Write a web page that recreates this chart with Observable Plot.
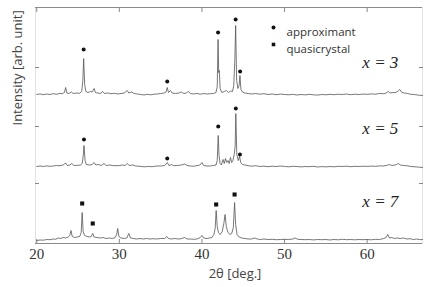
<!DOCTYPE html>
<html><head><meta charset="utf-8">
<script src="https://cdn.jsdelivr.net/npm/d3@7"></script>
<script src="https://cdn.jsdelivr.net/npm/@observablehq/plot@0.6"></script>
<style>body{margin:0;background:#fff}</style>
</head><body><div id="chart"></div>
<script>
const samples = ["x = 3", "x = 5", "x = 7"];
const offsets = [149, 77, 3];
const labelAt = [[61.6, 32], [61.6, 38], [61.6, 39]];
const xTicks = [20, 30, 40, 50, 60];
const yTicks = [60, 117, 176];

const scan3 = [[20.0,0],[20.4,0.6],[20.8,-0.2],[21.2,0.5],[21.6,0],[22.0,0.8],[22.4,0.2],[22.8,1.2],[23.1,0.8],[23.35,2],[23.5,7],[23.65,1.5],[23.9,1],[24.2,2.5],[24.4,1],[24.8,1.5],[25.2,1.2],[25.45,3],[25.58,14],[25.68,36],[25.8,10],[25.95,3],[26.2,2],[26.5,3],[26.7,2.5],[26.95,6],[27.1,2],[27.4,1.5],[27.7,1],[28.0,3],[28.2,1],[28.6,1.5],[29.0,0.8],[29.4,1.2],[29.8,0.5],[30.2,1],[30.6,1.5],[30.95,4],[31.15,1.5],[31.5,2.5],[31.8,1],[32.2,0.5],[32.6,0],[33.0,-0.5],[33.4,0.2],[33.8,-0.3],[34.2,0.3],[34.6,0.5],[35.0,1],[35.4,1.5],[35.65,2.5],[35.8,7],[35.95,2],[36.2,4],[36.4,1.5],[36.8,1],[37.2,1.5],[37.5,2.5],[37.8,1],[38.1,1.5],[38.35,3],[38.6,1],[39.0,0.5],[39.4,1],[39.8,0.3],[40.2,1],[40.6,0.5],[41.0,0.8],[41.4,1],[41.7,2],[41.85,8],[41.95,55],[42.03,22],[42.1,24],[42.2,6],[42.4,2],[42.7,3],[42.95,4],[43.2,2],[43.45,3.5],[43.7,3],[43.85,9],[43.98,34],[44.08,69],[44.2,14],[44.35,6],[44.5,9],[44.6,19],[44.72,5],[44.9,2.5],[45.2,1.5],[45.6,1],[46.0,0.5],[46.5,1],[47.0,0.3],[47.5,0.8],[48.0,0],[48.5,0.5],[49.0,-0.2],[49.5,0.4],[50.0,0],[50.5,-0.3],[51.0,0.2],[51.5,-0.5],[52.0,0],[52.5,-0.4],[53.0,0.2],[53.5,-0.3],[54.0,-0.6],[54.5,0],[55.0,-0.3],[55.5,0.2],[56.0,-0.2],[56.5,0.3],[57.0,0],[57.5,0.5],[58.0,-0.2],[58.5,0.3],[59.0,0],[59.5,0.4],[60.0,0.2],[60.5,0.6],[61.0,0.3],[61.5,1],[62.0,0.8],[62.3,1.5],[62.55,3],[62.8,1.5],[63.1,2],[63.4,1.8],[63.7,3],[63.95,5],[64.2,2],[64.5,1.5],[64.9,1],[65.3,0.2],[65.7,0],[66.1,-0.5],[66.7,-1]];

const scan5 = [[20.0,0],[20.4,0.5],[20.8,0],[21.2,0.6],[21.6,0.2],[22.0,0.5],[22.4,1],[22.8,0.8],[23.2,1.5],[23.5,3.5],[23.7,1],[24.0,1.5],[24.25,3],[24.5,1],[24.9,1.2],[25.3,1.5],[25.5,3],[25.62,10],[25.72,21],[25.85,6],[26.0,2],[26.4,1.5],[26.7,2],[26.95,4],[27.15,1.5],[27.5,2],[27.8,1],[28.15,3],[28.4,1],[28.8,1.5],[29.2,1],[29.6,0.8],[30.0,1],[30.4,1.5],[30.7,1],[30.95,3],[31.2,1],[31.6,1.5],[32.0,0.5],[32.5,0.2],[33.0,-0.3],[33.5,0],[34.0,-0.2],[34.5,0.5],[35.0,0.5],[35.5,1],[35.8,4],[36.0,1],[36.3,2],[36.6,0.8],[37.0,1],[37.5,1.5],[37.9,2.5],[38.2,1],[38.6,0.5],[39.0,0.3],[39.4,0.8],[39.75,1.5],[40.0,4],[40.2,1],[40.6,0.5],[41.0,0.5],[41.4,1],[41.7,1.5],[41.85,6],[41.97,31],[42.07,11],[42.2,3],[42.35,1.5],[42.55,7],[42.7,3],[42.85,8],[43.0,4],[43.15,6],[43.3,3],[43.45,9],[43.6,4],[43.75,6],[43.9,12],[44.02,20],[44.1,53],[44.22,12],[44.4,6],[44.55,10],[44.7,4],[44.9,2],[45.2,1.5],[45.6,0.8],[46.0,0.3],[46.5,0.8],[47.0,0],[47.5,0.4],[48.0,-0.2],[48.5,0.3],[49.0,0],[49.5,0.5],[50.0,0.1],[50.5,-0.3],[51.0,0.2],[51.5,0],[52.0,-0.4],[52.5,0],[53.0,-0.2],[53.5,0.2],[54.0,-0.5],[54.5,-0.1],[55.0,-0.4],[55.5,0],[56.0,-0.3],[56.5,0.2],[57.0,0],[57.5,0.3],[58.0,-0.2],[58.5,0.2],[59.0,0],[59.5,0.3],[60.0,0.1],[60.5,0.4],[61.0,0.2],[61.5,0.6],[62.0,0.5],[62.4,1.2],[62.7,2],[63.0,1],[63.4,1.5],[63.8,3],[64.0,1.5],[64.4,1],[64.8,0.8],[65.3,0],[65.8,-0.3],[66.2,-0.6],[66.7,-1]];

const scan7 = [[20.0,0],[20.4,0.5],[20.8,0.3],[21.2,1],[21.6,0.8],[22.0,1.5],[22.3,1.2],[22.6,2.5],[22.9,2],[23.2,3],[23.5,2.5],[23.8,3.5],[24.0,5],[24.15,10],[24.3,4],[24.6,3],[24.9,3.5],[25.2,4],[25.38,8],[25.5,28],[25.62,9],[25.8,5],[26.1,4],[26.4,3.5],[26.6,4],[26.78,7],[26.95,3.5],[27.3,3],[27.7,2.5],[28.0,3],[28.4,2],[28.8,2.5],[29.2,2],[29.5,3],[29.68,6],[29.8,12],[29.95,4],[30.2,2.5],[30.6,2],[30.9,2.5],[31.15,7],[31.35,2.5],[31.7,2],[32.1,1.5],[32.5,2],[32.9,1.5],[33.3,2],[33.7,1.5],[34.1,1.8],[34.5,1.5],[35.0,2],[35.5,2],[35.75,4],[35.95,2],[36.3,1.5],[36.7,2],[37.1,1.5],[37.5,1.8],[37.9,3],[38.2,1.5],[38.6,1.5],[39.0,1.2],[39.4,1.5],[39.8,3],[40.0,5],[40.2,2.5],[40.6,2],[40.9,2.5],[41.2,3],[41.45,6],[41.6,12],[41.72,30],[41.85,14],[42.0,8],[42.2,6],[42.45,9],[42.65,17],[42.8,26],[42.95,14],[43.15,8],[43.4,6],[43.6,7],[43.8,13],[43.95,38],[44.08,16],[44.25,6],[44.5,3.5],[44.8,2.5],[45.2,2],[45.6,1.5],[46.0,1.5],[46.4,2.5],[46.7,1.5],[47.1,1],[47.5,1.5],[48.0,1],[48.5,1.2],[49.0,0.8],[49.5,1],[50.0,1.2],[50.5,1],[51.0,1.5],[51.3,2.5],[51.6,1.2],[52.0,1],[52.5,0.8],[53.0,1],[53.5,0.6],[54.0,1],[54.5,0.8],[55.0,1],[55.5,0.5],[56.0,1],[56.5,0.7],[57.0,1.2],[57.5,0.8],[58.0,1],[58.5,0.7],[59.0,1],[59.5,0.8],[60.0,1],[60.5,0.7],[61.0,1.2],[61.5,1],[62.0,2],[62.3,3],[62.5,6],[62.7,2.5],[63.0,3],[63.3,2],[63.6,2.5],[64.0,2],[64.4,2.5],[64.8,1.5],[65.2,1.8],[65.6,1],[66.0,1.5],[66.4,0.8],[66.7,1]];

const approximant3 = [[25.68,45],[35.8,13],[41.95,62],[44.08,75],[44.62,23]];
const approximant5 = [[25.72,27],[35.8,8],[41.97,40],[44.1,58],[44.6,12]];
const quasicrystal7 = [[25.5,37],[26.78,17],[41.72,36],[43.95,46]];
const legendLabels = ["approximant", "quasicrystal"];

const serif = "'Liberation Serif', 'Times New Roman', 'DejaVu Serif', serif";
const sans = "'Open Sans', 'Noto Sans', sans-serif";

const scans = [scan3, scan5, scan7];
const rows = scans.flatMap((s, i) => s.map(([t, v]) => ({sample: samples[i], t, y: v + offsets[i]})));
const apx = [approximant3, approximant5].flatMap((s, i) => s.map(([t, v]) => ({t, y: v + offsets[i]})));
const qc = quasicrystal7.map(([t, v]) => ({t, y: v + offsets[2]}));
const labels = samples.map((s, i) => ({s, t: labelAt[i][0], y: labelAt[i][1] + offsets[i]}));

const chart = Plot.plot({
  width: 436, height: 287,
  marginLeft: 35, marginRight: 14, marginTop: 7, marginBottom: 44,
  x: {domain: [19.85, 66.7]},
  y: {domain: [0, 236]},
  style: {fontFamily: serif, fontSize: "15px", color: "#333", background: "white"},
  marks: [
    Plot.frame({stroke: "#e2e2e2"}),
    Plot.ruleY([0, 236], {stroke: "#8a8a8a", strokeWidth: 1}),
    Plot.axisX({anchor: "bottom", ticks: xTicks, tickSize: -4, tickPadding: 9, label: null, stroke: "#888", fontSize: 15, fontFamily: serif, fill: "#333"}),
    Plot.axisX({anchor: "top", ticks: xTicks, tickSize: -4, tickFormat: () => "", label: null, stroke: "#888"}),
    Plot.axisY({anchor: "left", ticks: yTicks, tickSize: -4, tickFormat: () => "", label: null, stroke: "#888"}),
    Plot.axisY({anchor: "right", ticks: yTicks, tickSize: -4, tickFormat: () => "", label: null, stroke: "#888"}),
    Plot.line(rows, {x: "t", y: "y", z: "sample", stroke: "#555", strokeWidth: 0.8}),
    Plot.dot(apx, {x: "t", y: "y", r: 2, fill: "#111", stroke: null}),
    Plot.dot(qc, {x: "t", y: "y", symbol: "square", r: 2.3, fill: "#111", stroke: null}),
    Plot.text(labels, {x: "t", y: "y", text: "s", fontFamily: serif, fontStyle: "italic", fontSize: 17, fill: "#222"}),
    Plot.dot([legendLabels[0]], {frameAnchor: "top-left", dx: 238, dy: 20, r: 2, fill: "#111", stroke: null}),
    Plot.dot([legendLabels[1]], {frameAnchor: "top-left", dx: 238, dy: 37, symbol: "square", r: 2, fill: "#111", stroke: null}),
    Plot.text([legendLabels[0]], {text: d => d, frameAnchor: "top-left", dx: 251, dy: 20, textAnchor: "start", fontFamily: sans, fontSize: 11.5, fill: "#333"}),
    Plot.text([legendLabels[1]], {text: d => d, frameAnchor: "top-left", dx: 251, dy: 37, textAnchor: "start", fontFamily: sans, fontSize: 11.5, fill: "#333"}),
    Plot.text(["Intensity [arb. unit]"], {text: d => d, frameAnchor: "left", dx: -18, rotate: -90, fontFamily: sans, fontSize: 13, fill: "#444"}),
    Plot.text(["2θ [deg.]"], {text: d => d, frameAnchor: "bottom", dx: 6, dy: 34, fontFamily: sans, fontSize: 13, fill: "#444"})
  ]
});
document.getElementById("chart").append(chart);
</script>
</body></html>
